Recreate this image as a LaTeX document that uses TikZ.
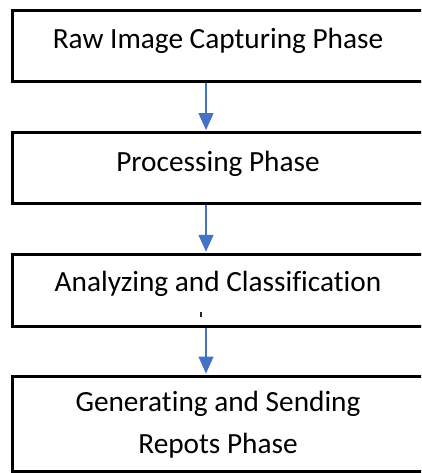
\documentclass[tikz,border=0pt]{standalone}
\usepackage{fontspec}
\setmainfont{Carlito}[Ligatures=NoCommon]
\usetikzlibrary{arrows.meta}
\definecolor{flowblue}{HTML}{4472C4}
\tikzset{
  phasebox/.style={draw=black, line width=3pt, rectangle, inner sep=0pt, outer sep=0pt,
    minimum width=412pt},
  phasetext/.style={anchor=base, inner sep=0pt, text=black,
    font=\fontsize{29.3}{40}\selectfont, align=center},
  flow/.style={draw=flowblue, line width=1.3pt, -{Triangle[width=15pt,length=17pt]}, shorten >=1pt}
}
\begin{document}
\begin{tikzpicture}[x=1pt,y=-1pt]
  \clip (0,0) rectangle (421,473);
  \fill[white] (0,0) rectangle (421,473);

  % phase boxes (right edges run past the frame)
  \node[phasebox, minimum height=71.2pt] (b1) at (218,46.4) {};
  \node[phasebox, minimum height=71.3pt] (b2) at (218,168.2) {};
  \node[phasebox, minimum height=72.4pt] (b3) at (218,290.5) {};
  \node[phasebox, minimum height=95pt]   (b4) at (218,423.5) {};

  % box captions
  \node[phasetext] (t1) at (218,49) {Raw Image Capturing Phase};
  \node[phasetext] (t2) at (218,171.5) {Processing Phase};
  \node[phasetext] (t3) at (218,291.5) {Analyzing and Classification};
  \node[phasetext] (t4a) at (218,411.5) {Generating and Sending};
  \node[phasetext] (t4b) at (218,453) {Repots Phase};

  % small stray mark under the third caption
  \coordinate (m1) at (201,312);
  \coordinate (m2) at (201,316.5);
  \draw[line width=1.3pt, black!85] (m1) -- (m2);

  % connectors
  \coordinate (ax) at (206,0);
  \draw[flow] ([yshift=-1.5pt]b1.south -| ax) -- ([yshift=1.5pt]b2.north -| ax);
  \draw[flow] ([yshift=-1.5pt]b2.south -| ax) -- ([yshift=1.5pt]b3.north -| ax);
  \draw[flow] ([yshift=-1.5pt]b3.south -| ax) -- ([yshift=1.5pt]b4.north -| ax);
\end{tikzpicture}
\end{document}
